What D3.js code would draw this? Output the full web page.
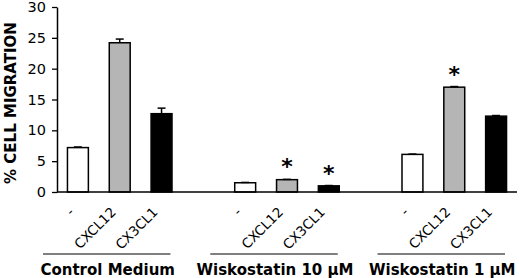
<!DOCTYPE html>
<html>
<head>
<meta charset="utf-8">
<script src="https://cdn.jsdelivr.net/npm/d3@7"></script>
<style>
  body { margin: 0; background: #fff; }
  svg { display: block; font-family: "DejaVu Sans", Verdana, sans-serif; }
</style>
</head>
<body>
<svg id="chart"></svg>
<script>
// data
const groups = ["Control Medium", "Wiskostatin 10 \u03BCM", "Wiskostatin 1 \u03BCM"];
const treatments = ["-", "CXCL12", "CX3CL1"];
const values = [
  [7.2, 24.2, 12.7],
  [1.5, 2.0, 1.0],
  [6.1, 17.0, 12.3]
];
const errors = [
  [0.1, 0.6, 0.9],
  [0.05, 0.05, 0.05],
  [0.05, 0.1, 0.1]
];
const significant = [
  [false, false, false],
  [false, true, true],
  [false, true, false]
];
const yTicks = [0, 5, 10, 15, 20, 25, 30];
const yLabel = "% CELL MIGRATION";

const size = {width: 520, height: 278};
const fills = {"-": "#ffffff", "CXCL12": "#b5b5b5", "CX3CL1": "#000000"};

const svg = d3.select("#chart")
  .attr("width", size.width)
  .attr("height", size.height);

const plot = {left: 57, right: 517, top: 7, bottom: 192};

let x0 = d3.scaleBand()
  .domain(groups)
  .range([plot.left, plot.right])
  .paddingInner(0.25)
  .paddingOuter(0);

let x1 = d3.scaleBand()
  .domain(treatments)
  .range([0, x0.bandwidth()])
  .paddingInner(0.5)
  .paddingOuter(0.25);

let y = d3.scaleLinear()
  .domain([0, 30])
  .range([plot.bottom, plot.top]);

// flat rows
let rows = [];
groups.forEach((g, i) => {
  treatments.forEach((t, j) => {
    rows.push({group: g, treat: t, value: values[i][j], err: errors[i][j], sig: significant[i][j]});
  });
});

// y axis
let yAxis = svg.append("g")
  .attr("transform", `translate(${plot.left},0)`)
  .call(d3.axisLeft(y).tickValues(yTicks).tickSize(5).tickPadding(6).tickSizeOuter(0));
yAxis.attr("font-size", 14.5).attr("font-family", "DejaVu Sans, Verdana, sans-serif");
yAxis.select(".domain").attr("stroke", "#000").attr("stroke-width", 1.5);
yAxis.selectAll(".tick line").attr("stroke", "#000").attr("stroke-width", 1.3);
yAxis.selectAll(".tick text").attr("fill", "#000");

svg.append("text")
  .attr("transform", `translate(16,103) rotate(-90)`)
  .attr("text-anchor", "middle")
  .attr("font-size", 15)
  .attr("font-weight", "bold")
  .text(yLabel);

// bars
let gBars = svg.append("g");
gBars.selectAll("rect")
  .data(rows)
  .join("rect")
  .attr("x", d => x0(d.group) + x1(d.treat))
  .attr("y", d => y(d.value))
  .attr("width", x1.bandwidth())
  .attr("height", d => y(0) - y(d.value))
  .attr("fill", d => fills[d.treat])
  .attr("stroke", "#000")
  .attr("stroke-width", 1.5);

// error bars (upper only)
let cx = d => x0(d.group) + x1(d.treat) + x1.bandwidth() / 2;
let gErr = svg.append("g").attr("stroke", "#000").attr("stroke-width", 1.5);
gErr.selectAll("line.v")
  .data(rows)
  .join("line")
  .attr("class", "v")
  .attr("x1", cx).attr("x2", cx)
  .attr("y1", d => y(d.value))
  .attr("y2", d => y(d.value + d.err));
gErr.selectAll("line.cap")
  .data(rows)
  .join("line")
  .attr("class", "cap")
  .attr("x1", d => cx(d) - 4).attr("x2", d => cx(d) + 4)
  .attr("y1", d => y(d.value + d.err))
  .attr("y2", d => y(d.value + d.err));

// asterisks
svg.append("g").selectAll("text")
  .data(rows.filter(d => d.sig))
  .join("text")
  .attr("x", cx)
  .attr("y", d => y(d.value + d.err) - 5)
  .attr("text-anchor", "middle")
  .attr("font-size", 22)
  .attr("font-weight", "bold")
  .text("*");

// x axis line
svg.append("line")
  .attr("x1", plot.left).attr("x2", plot.right)
  .attr("y1", plot.bottom).attr("y2", plot.bottom)
  .attr("stroke", "#000").attr("stroke-width", 1.5);

// treatment labels
svg.append("g").selectAll("text")
  .data(rows)
  .join("text")
  .attr("transform", d => `translate(${cx(d) - 3},213) rotate(-45)`)
  .attr("text-anchor", "end")
  .attr("font-size", 13.5)
  .text(d => d.treat);

// group lines + labels
let gGroup = svg.append("g");
gGroup.selectAll("line")
  .data(groups)
  .join("line")
  .attr("x1", g => x0(g) - 14)
  .attr("x2", g => x0(g) + x0.bandwidth() - 12)
  .attr("y1", 254).attr("y2", 254)
  .attr("stroke", "#000").attr("stroke-width", 1.2);
gGroup.selectAll("text")
  .data(groups)
  .join("text")
  .attr("x", g => x0(g) + x0.bandwidth() / 2 - 12)
  .attr("y", 275)
  .attr("text-anchor", "middle")
  .attr("font-size", 15)
  .attr("font-weight", "bold")
  .text(g => g);
</script>
</body>
</html>
